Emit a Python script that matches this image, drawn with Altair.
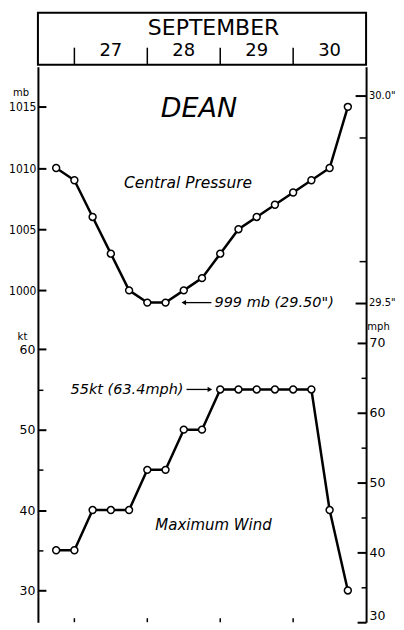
import altair as alt
import pandas as pd

# ---------------- data (hours since 26 Sep 00Z) ----------------
hours = [18, 24, 30, 36, 42, 48, 54, 60, 66, 72, 78, 84, 90, 96, 102, 108, 114]
pressure_mb = [1010, 1009, 1006, 1003, 1000, 999, 999, 1000, 1001, 1003,
               1005, 1006, 1007, 1008, 1009, 1010, 1015]
wind_kt = [35, 35, 40, 40, 40, 45, 45, 50, 50, 55, 55, 55, 55, 55, 55, 40, 30]

month_label = "SEPTEMBER"
day_labels = ["27", "28", "29", "30"]
day_mid_hours = [36, 60, 84, 108]
day_start_hours = [24, 48, 72, 96]

mb_ticks = [1000, 1005, 1010, 1015]
inhg_major = [29.5, 30.0]
inhg_minor = [29.6, 29.7, 29.8, 29.9]
kt_major = [30, 40, 50, 60]
kt_minor = [35, 45, 55]
mph_major = [30, 40, 50, 60, 70]
mph_minor = [35, 45, 55, 65]

MB_PER_INHG = 33.8639
MPH_PER_KT = 1.15078

X_DOMAIN = [12, 120]
P_DOMAIN = [972.88, 1018.285]
KT_DOMAIN = [26.05, 95.15]
INHG_DOMAIN = [v / MB_PER_INHG for v in P_DOMAIN]
MPH_DOMAIN = [v * MPH_PER_KT for v in KT_DOMAIN]

W = 329
H_HEAD = 52
H_MAIN = 557

df = pd.DataFrame({"hour": hours, "pressure": pressure_mb, "wind": wind_kt})
df["inhg"] = df["pressure"] / MB_PER_INHG
df["mph"] = df["wind"] * MPH_PER_KT
days_df = pd.DataFrame({"hour": day_start_hours})

one = alt.Data(values=[{}])

COND = "DejaVu Sans Condensed"
REG = "DejaVu Sans"


def xscale():
    return alt.Scale(domain=X_DOMAIN, nice=False, zero=False)


def sc(domain):
    return alt.Scale(domain=domain, nice=False, zero=False)


def X():
    return alt.X("hour:Q", scale=xscale(), axis=None)


def yaxis(orient, values, size, labels=True, label_expr=None, title=None,
          tx=0, ty=0, width=2.0, baseline=None, font=COND, fsize=12, pad=2):
    kw = dict(orient=orient, values=values, offset=-size, tickSize=size,
              tickWidth=width, tickColor="black", domain=False, grid=False,
              labels=labels, labelColor="black", labelFont=font,
              labelFontSize=fsize, labelPadding=pad)
    if label_expr:
        kw["labelExpr"] = label_expr
    else:
        kw["format"] = "d"
    if baseline is not None:
        kw["labelBaseline"] = baseline
    if title:
        kw.update(title=title, titleAngle=0, titleX=tx, titleY=ty,
                  titleFont=REG, titleFontSize=10,
                  titleFontWeight="normal", titleColor="black",
                  titleAlign="center", titleBaseline="middle")
    else:
        kw["title"] = None
    return alt.Axis(**kw)


def border_axis(orient):
    return alt.Axis(orient=orient, domain=True, domainColor="black",
                    domainWidth=2, ticks=False, labels=False, grid=False,
                    title=None)


def hidden_axis_layer(field, domain, axis):
    return alt.Chart(df).mark_point(opacity=0).encode(
        x=X(), y=alt.Y(field, type="quantitative", scale=sc(domain), axis=axis))


def note(text, h, yv, domain, size, align="center", italic=True):
    return alt.Chart(one).mark_text(
        text=text, align=align, baseline="middle", font=REG,
        fontSize=size, fontStyle="italic" if italic else "normal",
        color="black").encode(
        x=alt.XDatum(h, type="quantitative", scale=xscale(), axis=None),
        y=alt.YDatum(yv, type="quantitative", scale=sc(domain), axis=None))


def arrow(h_from, h_to, yv, domain, shape):
    rule = alt.Chart(one).mark_rule(color="black", strokeWidth=1.3).encode(
        x=alt.XDatum(h_from, type="quantitative", scale=xscale(), axis=None),
        x2=alt.X2Datum(h_to),
        y=alt.YDatum(yv, type="quantitative", scale=sc(domain), axis=None))
    head = alt.Chart(one).mark_point(shape=shape, filled=True, color="black",
                                     size=28, opacity=1).encode(
        x=alt.XDatum(h_to, type="quantitative", scale=xscale(), axis=None),
        y=alt.YDatum(yv, type="quantitative", scale=sc(domain), axis=None))
    return [rule, head]


# ---------------- main panel ----------------
p_line = alt.Chart(df).mark_line(color="black", strokeWidth=2.5).encode(
    x=X(),
    y=alt.Y("pressure:Q", scale=sc(P_DOMAIN),
            axis=yaxis("left", mb_ticks, 8, title="mb", tx=-25.5, ty=26)))
p_pts = alt.Chart(df).mark_point(shape="circle", filled=True, fill="white",
                                 stroke="black", strokeWidth=1.5, size=48,
                                 opacity=1).encode(
    x=X(), y=alt.Y("pressure:Q", scale=sc(P_DOMAIN), axis=None))

w_line = alt.Chart(df).mark_line(color="black", strokeWidth=2.5).encode(
    x=X(),
    y=alt.Y("wind:Q", scale=sc(KT_DOMAIN),
            axis=yaxis("left", kt_major, 8, title="kt", tx=-24, ty=271,
                       font=REG, fsize=12.5, pad=3)))
w_pts = alt.Chart(df).mark_point(shape="circle", filled=True, fill="white",
                                 stroke="black", strokeWidth=1.5, size=48,
                                 opacity=1).encode(
    x=X(), y=alt.Y("wind:Q", scale=sc(KT_DOMAIN), axis=None))

ax_left_border = hidden_axis_layer("pressure", P_DOMAIN, border_axis("left"))
ax_right_border = hidden_axis_layer("pressure", P_DOMAIN, border_axis("right"))
ax_kt_minor = hidden_axis_layer("wind", KT_DOMAIN,
                                yaxis("left", kt_minor, 5, labels=False, width=1.5))
ax_in_major = hidden_axis_layer(
    "inhg", INHG_DOMAIN,
    yaxis("right", inhg_major, 11, fsize=11, pad=2.5,
          label_expr="format(datum.value, '.1f') + '\"'"))
ax_in_minor = hidden_axis_layer("inhg", INHG_DOMAIN,
                                yaxis("right", inhg_minor, 7, labels=False, width=1.5))
ax_mph_major = hidden_axis_layer(
    "mph", MPH_DOMAIN,
    yaxis("right", mph_major, 9, title="mph", tx=21, ty=261,
          font=REG, fsize=12.5, pad=3,
          baseline={"condition": {"test": "datum.value == 30", "value": "bottom"},
                    "value": "middle"}))
ax_mph_minor = hidden_axis_layer("mph", MPH_DOMAIN,
                                 yaxis("right", mph_minor, 5, labels=False, width=1.5))

bottom_ticks = alt.Chart(days_df).mark_rule(color="black", strokeWidth=1.5).encode(
    x=X(), y=alt.value(H_MAIN - 4), y2=alt.value(H_MAIN))

notes = [
    note("DEAN", 65.0, 1014.86, P_DOMAIN, 27),
    note("Central Pressure", 61.4, 1008.75, P_DOMAIN, 15.5),
    note('999 mb (29.50")', 70.1, 999, P_DOMAIN, 14.5, align="left"),
    note("55kt (63.4mph)", 59.9, 54.9, KT_DOMAIN, 14.5, align="right"),
    note("Maximum Wind", 69.8, 38.16, KT_DOMAIN, 15),
]
arrows = arrow(69.1, 60.0, 999, P_DOMAIN, "triangle-left") + \
    arrow(60.9, 68.6, 55, KT_DOMAIN, "triangle-right")

main = alt.layer(
    ax_left_border, ax_right_border, p_line, w_line, ax_kt_minor, ax_in_major,
    ax_in_minor, ax_mph_major, ax_mph_minor, bottom_ticks, *arrows,
    p_pts, w_pts, *notes
).resolve_scale(y="independent").properties(width=W, height=H_MAIN)

# ---------------- header panel ----------------
hdf = pd.DataFrame({"hour": day_mid_hours, "label": day_labels})
head_days = alt.Chart(hdf).mark_text(font=REG, fontSize=18,
                                     baseline="middle", color="black").encode(
    x=X(), y=alt.value(38), text="label:N")
head_seps = alt.Chart(days_df).mark_rule(color="black", strokeWidth=1.5).encode(
    x=X(), y=alt.value(35), y2=alt.value(H_HEAD))
head_month = alt.Chart(one).mark_text(text=month_label, font=REG,
                                      fontSize=22, baseline="middle",
                                      color="black").encode(
    x=alt.XDatum(69.8, type="quantitative", scale=xscale(), axis=None),
    y=alt.value(15.5))
header = alt.layer(head_seps, head_days, head_month).properties(
    width=W, height=H_HEAD,
    view=alt.ViewBackground(stroke="black", strokeWidth=2))

chart = alt.vconcat(header, main, spacing=0).properties(
    padding={"top": 3, "left": 0, "right": 0, "bottom": 0},
    background="white"
).configure_view(stroke=None)

chart.save("out.html", embed_options={"renderer": "svg", "actions": False})
